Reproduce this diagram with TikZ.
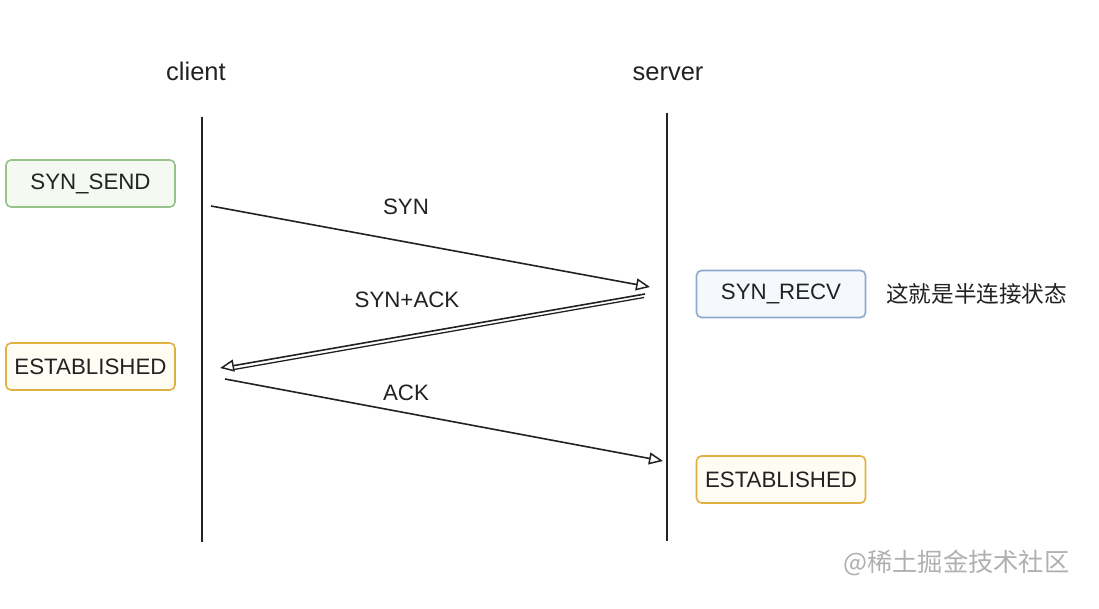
\documentclass[tikz,border=0pt]{standalone}
\usepackage{fontspec}
\setmainfont{Liberation Sans}
\newfontfamily\cjk{Noto Sans CJK SC}
\usetikzlibrary{arrows.meta}
\definecolor{gborder}{HTML}{97C38A}
\definecolor{gfill}{HTML}{F4F9F1}
\definecolor{bborder}{HTML}{8EA8D0}
\definecolor{bfill}{HTML}{F5F8FC}
\definecolor{oborder}{HTML}{E0B040}
\definecolor{ofill}{HTML}{FFFCF4}
\definecolor{ink}{HTML}{222222}
\definecolor{wm}{HTML}{B0B0B0}
\tikzset{
  state/.style={draw, rounded corners=5pt, line width=1.6pt, minimum width=169pt, minimum height=47pt, inner sep=0pt, font=\fontsize{22.3}{25}\selectfont, text=ink},
  greenstate/.style={state, draw=gborder, fill=gfill},
  bluestate/.style={state, draw=bborder, fill=bfill},
  orangestate/.style={state, draw=oborder, fill=ofill},
  lifeline/.style={line width=2pt, draw=ink},
  msg/.style={line width=1.6pt, draw=ink, -{Triangle[open, length=14pt, width=12pt, line width=1.5pt]}},
  lbl/.style={font=\fontsize{22.3}{25}\selectfont, text=ink, inner sep=0pt},
  head/.style={font=\fontsize{25.5}{28}\selectfont, text=ink, inner sep=0pt, anchor=base}
}
\begin{document}
\begin{tikzpicture}[x=1pt, y=-1pt]
\useasboundingbox (0,0) rectangle (1099,609);
\fill[white] (0,0) rectangle (1099,609);

\node[head] (client) at (196,80.5) {client};
\node[head] (server) at (668,80.5) {server};

\coordinate (ctop) at (202,117);
\coordinate (cbot) at (202,542);
\coordinate (stop) at (667,113);
\coordinate (sbot) at (667,541);
\draw[lifeline] (ctop) -- (cbot);
\draw[lifeline] (stop) -- (sbot);

\node[greenstate] (synsend) at (90.5,183.5) {SYN\_SEND};
\node[bluestate] (synrecv) at (781,294) {SYN\_RECV};
\node[orangestate] (estc) at (90.5,366.5) {ESTABLISHED};
\node[orangestate] (ests) at (781,479.5) {ESTABLISHED};

\node[font=\cjk\fontsize{22.6}{25}\selectfont, text=ink, anchor=west, inner sep=0pt] (half) at (886,294) {这就是半连接状态};

\coordinate (synA) at (211,206);
\coordinate (synB) at (650,287);
\coordinate (saA) at (645,294);
\coordinate (saB) at (220,368);
\coordinate (saA2) at (644,297.5);
\coordinate (saB2) at (234,369.5);
\coordinate (ackA) at (225,379);
\coordinate (ackB) at (663,461);

\draw[msg] (synA) -- (synB);
\draw[msg] (saA) -- (saB);
\draw[line width=1.3pt, draw=ink] (saA2) -- (saB2);
\draw[msg] (ackA) -- (ackB);

\node[lbl] (synl) at (406,207) {SYN};
\node[lbl] (sal) at (407,300) {SYN+ACK};
\node[lbl] (ackl) at (406,393) {ACK};

\node[font=\cjk\fontsize{25.3}{28}\selectfont, text=wm, anchor=west, inner sep=0pt] (wmark) at (843,563) {@稀土掘金技术社区};
\end{tikzpicture}
\end{document}
